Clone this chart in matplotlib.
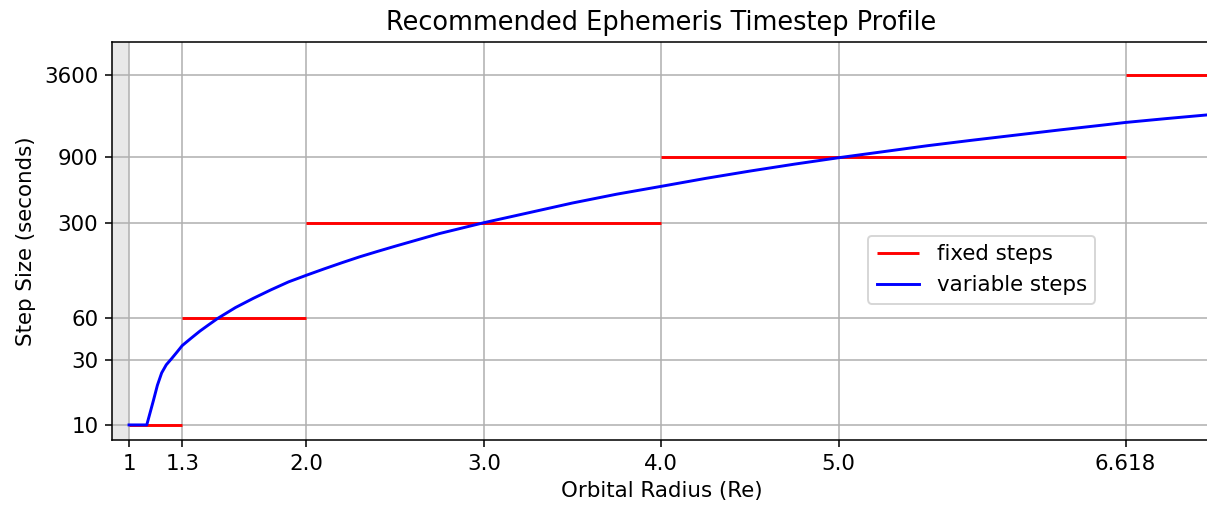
import numpy as np
import matplotlib
matplotlib.use("Agg")
import matplotlib.pyplot as plt
from matplotlib.ticker import NullLocator

plt.rcParams.update({"font.size": 11})

# fixed timestep bands (Re boundaries and step size in seconds)
band_edges = [1.0, 1.3, 2.0, 4.0, 6.618, 7.3]
fixed_steps = [10, 60, 300, 900, 3600]

# variable timestep profile
radius = [1.0, 1.1, 1.137, 1.16, 1.184, 1.21, 1.24, 1.27, 1.3, 1.35, 1.4,
          1.45, 1.5, 1.6, 1.7, 1.8, 1.9, 2.0, 2.1, 2.2, 2.3, 2.4, 2.5,
          2.75, 3.0, 3.25, 3.5, 3.75, 4.0, 4.25, 4.5, 4.75, 5.0, 5.25,
          5.5, 5.75, 6.0, 6.25, 6.5, 6.618, 6.85, 7.2]
var_steps = [10, 10, 15, 19.5, 24, 27.5, 30.5, 34, 38, 43, 48.5,
             54, 60, 72, 84, 97, 111, 124, 138, 153, 169, 185, 202,
             250, 300, 354, 418, 485, 553, 632, 715, 803, 895, 990,
             1095, 1200, 1310, 1430, 1555, 1620, 1730, 1900]

xticks = [1, 1.3, 2.0, 3.0, 4.0, 5.0, 6.618]
xticklabels = ['1', '1.3', '2.0', '3.0', '4.0', '5.0', '6.618']
yticks = [10, 30, 60, 300, 900, 3600]

fig = plt.figure(figsize=(1207 / 140, 508 / 140), dpi=140)
ax = fig.add_axes([112 / 1207, 68 / 508, 1099 / 1207, 398 / 508])

ax.axvspan(0.8, 1.0, color='lightgrey', alpha=0.5, lw=0)
ax.hlines(fixed_steps, band_edges[:-1], band_edges[1:], colors='red',
          lw=1.5, label='fixed steps', zorder=2)
ax.plot(radius, var_steps, color='blue', lw=1.5, label='variable steps', zorder=3)

ax.set_yscale('log')
ax.set_xlim(0.904, 7.1)
ax.set_ylim(7.76, 6270)
ax.set_xticks(xticks)
ax.set_xticklabels(xticklabels)
ax.set_yticks(yticks)
ax.set_yticklabels([str(v) for v in yticks])
ax.yaxis.set_minor_locator(NullLocator())
ax.grid(True)

ax.set_xlabel('Orbital Radius (Re)')
ax.set_ylabel('Step Size (seconds)')
ax.set_title('Recommended Ephemeris Timestep Profile', fontsize=13.2)
ax.legend(loc='upper left', bbox_to_anchor=(0.688, 0.513), borderaxespad=0)

fig.savefig('out.png', dpi=140)
